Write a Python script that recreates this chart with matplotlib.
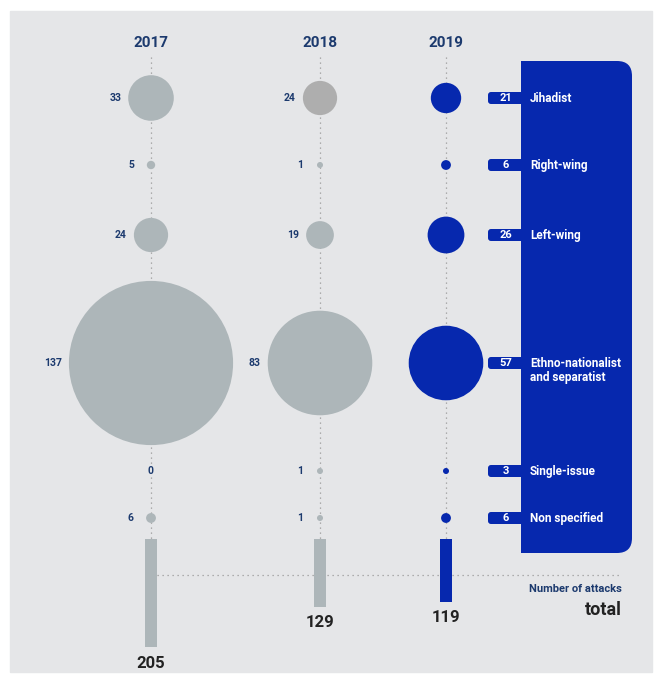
import matplotlib
matplotlib.use("Agg")
import matplotlib.pyplot as plt
from matplotlib.patches import Circle, Rectangle, FancyBboxPatch

# data
years = ["2017", "2018", "2019"]
categories = ["Jihadist", "Right-wing", "Left-wing",
              "Ethno-nationalist\nand separatist", "Single-issue", "Non specified"]
attacks_2017 = [33, 5, 24, 137, 0, 6]
attacks_2018 = [24, 1, 19, 83, 1, 1]
attacks_2019 = [21, 6, 26, 57, 3, 6]
totals = [205, 129, 119]

# layout (pixel space)
col_x = [151, 320, 446]
row_y = [98, 165, 235, 363, 471, 518]
bar_top = 539
bar_scale = 0.527

BG = "#e5e6e8"
GREY = "#adb6b9"
GREY2 = "#aeaeae"
BLUE = "#0628ae"
NAVY = "#1c3a6e"
DARK = "#222222"

plt.rcParams["font.family"] = ["Liberation Sans Narrow", "Roboto", "DejaVu Sans"]

fig = plt.figure(figsize=(6.55, 6.75), dpi=100)
ax = fig.add_axes([0, 0, 1, 1])
ax.set_xlim(0, 655)
ax.set_ylim(675, 0)
ax.axis("off")

# background panel
ax.add_patch(Rectangle((10, 11), 642, 661, color=BG, zorder=0))


def radius(v):
    return max(3.0, 0.98 * v ** 0.9)


# right blue panel with tabs
ax.add_patch(FancyBboxPatch((521, 61), 111, 492, boxstyle="round,pad=0,rounding_size=15",
                            fc=BLUE, ec="none", zorder=1))
ax.add_patch(Rectangle((521, 61), 30, 492, fc=BLUE, ec="none", zorder=1))
for cat, v, y in zip(categories, attacks_2019, row_y):
    ax.add_patch(FancyBboxPatch((488, y - 6), 40, 12, boxstyle="round,pad=0,rounding_size=3",
                                fc=BLUE, ec="none", zorder=1))
    ax.text(506, y, str(v), color="white", fontsize=8, fontweight="bold",
            ha="center", va="center", zorder=3)
    ax.text(530, y - 6, cat, color="white", fontsize=8.5, fontweight="bold",
            ha="left", va="top", linespacing=1.15, zorder=3)

# year columns
series = [attacks_2017, attacks_2018, attacks_2019]
for i, (yr, vals, x) in enumerate(zip(years, series, col_x)):
    ax.text(x, 43, yr, color=NAVY, fontsize=11, fontweight="bold", ha="center", va="center")
    ax.plot([x, x], [57, bar_top], color="#9a9a9a", lw=0.9, ls=(0, (1, 3)), zorder=1)
    for j, (v, y) in enumerate(zip(vals, row_y)):
        if v == 0:
            ax.text(x, y, "0", color=NAVY, fontsize=7.5, fontweight="bold",
                    ha="center", va="center", zorder=3,
                    bbox=dict(fc=BG, ec="none", pad=1))
            continue
        r = radius(v)
        if i == 2:
            fc = BLUE
        elif i == 1 and j == 0:
            fc = GREY2
        else:
            fc = GREY
        ax.add_patch(Circle((x, y), r, fc=fc, ec="none", zorder=2))
        if i < 2:
            ax.text(x - max(r + 7, 17), y, str(v), color=NAVY, fontsize=7.5,
                    fontweight="bold", ha="right", va="center", zorder=3)

# totals
ax.plot([157, 622], [575, 575], color="#9a9a9a", lw=0.9, ls=(0, (1, 3)), zorder=1)
bar_colors = [GREY, GREY, BLUE]
heights = [t * bar_scale for t in totals]
ax.bar(col_x, heights, width=12, bottom=bar_top, color=bar_colors, zorder=2)
for x, t, h in zip(col_x, totals, heights):
    ax.text(x, bar_top + h + 16, str(t), color=DARK, fontsize=12, fontweight="bold",
            ha="center", va="center")

ax.text(622, 589, "Number of attacks", color=NAVY, fontsize=8, fontweight="bold",
        ha="right", va="center")
ax.text(622, 610, "total", color=DARK, fontsize=13, fontweight="bold",
        ha="right", va="center")

fig.savefig("out.png", dpi=100, facecolor="white")
